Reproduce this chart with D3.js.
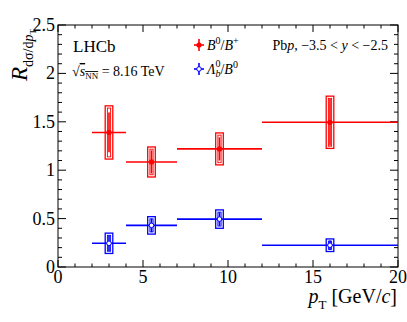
<!DOCTYPE html>
<html>
<head>
<meta charset="utf-8">
<script src="https://cdn.jsdelivr.net/npm/d3@7"></script>
<style>
  body { margin: 0; background: #fff; }
  svg text { font-family: "Liberation Serif", Tinos, "Times New Roman", Times, "Nimbus Roman", "DejaVu Serif", "Noto Serif", serif; }
</style>
</head>
<body>
<div id="chart"></div>
<script>
// ---- data ----
var binLo = [2, 4, 7, 12];
var binHi = [4, 7, 12, 20];
var binMid = [3, 5.5, 9.5, 16];

var bVal  = [1.39, 1.085, 1.22, 1.495];   // B0/B+
var bStat = [0.205, 0.12, 0.12, 0.24];
var bSyst = [0.275, 0.155, 0.165, 0.27];

var lVal  = [0.245, 0.43, 0.495, 0.225];  // Lambda_b0/B0
var lStat = [0.08, 0.07, 0.07, 0.05];
var lSyst = [0.105, 0.09, 0.095, 0.065];

var xTicks = [0, 5, 10, 15, 20];
var yTicks = [0, 0.5, 1, 1.5, 2, 2.5];

// ---- layout ----
var width = 407, height = 322;
var m = {left: 58, right: 9, top: 25, bottom: 55};
var W = width - m.left - m.right, H = height - m.top - m.bottom;

var svg = d3.select("#chart").append("svg")
    .attr("width", width).attr("height", height);
var g = svg.append("g").attr("transform", "translate(" + m.left + "," + m.top + ")");

var x = d3.scaleLinear().domain([0, 20]).range([0, W]);
var y = d3.scaleLinear().domain([0, 2.5]).range([H, 0]);

// frame
g.append("rect").attr("width", W).attr("height", H)
    .attr("fill", "none").attr("stroke", "#000").attr("stroke-width", 1);

// ticks (ROOT style, inside, on all four sides)
var xMinor = d3.range(0, 20.001, 1);
var yMinor = d3.range(0, 2.5001, 0.1);
xMinor.forEach(function (v) {
  var len = (Math.abs(v % 5) < 1e-6) ? 7 : 3.5;
  g.append("line").attr("x1", x(v)).attr("x2", x(v)).attr("y1", H).attr("y2", H - len).attr("stroke", "#000");
  g.append("line").attr("x1", x(v)).attr("x2", x(v)).attr("y1", 0).attr("y2", len).attr("stroke", "#000");
});
yMinor.forEach(function (v) {
  var isMaj = Math.abs(v * 2 - Math.round(v * 2)) < 1e-6;
  var len = isMaj ? 8 : 4;
  g.append("line").attr("y1", y(v)).attr("y2", y(v)).attr("x1", 0).attr("x2", len).attr("stroke", "#000");
  g.append("line").attr("y1", y(v)).attr("y2", y(v)).attr("x1", W).attr("x2", W - len).attr("stroke", "#000");
});

// tick labels
g.selectAll(".xl").data(xTicks).enter().append("text")
    .attr("x", function (d) { return x(d); }).attr("y", H + 16)
    .attr("text-anchor", "middle").attr("font-size", 18)
    .text(function (d) { return d; });
g.selectAll(".yl").data(yTicks).enter().append("text")
    .attr("x", -3).attr("y", function (d) { return y(d) + 6; })
    .attr("text-anchor", "end").attr("font-size", 18)
    .text(function (d) { return d; });

// axis titles
var xt = svg.append("text").attr("x", 397).attr("y", 303)
    .attr("text-anchor", "end").attr("font-size", 20);
xt.append("tspan").attr("font-style", "italic").text("p");
xt.append("tspan").attr("font-size", 13).attr("dy", 6).text("T");
xt.append("tspan").attr("dy", -6).text(" [GeV/");
xt.append("tspan").attr("font-style", "italic").text("c");
xt.append("tspan").text("]");

var yt = svg.append("text").attr("transform", "translate(27,81) rotate(-90)")
    .attr("text-anchor", "start").attr("font-size", 23);
yt.append("tspan").attr("font-style", "italic").text("R");
yt.append("tspan").attr("font-size", 14).attr("dy", 6).text("dσ/d");
yt.append("tspan").attr("font-size", 14).attr("font-style", "italic").text("p");
yt.append("tspan").attr("font-size", 9).attr("dy", 3).text("T");

// ---- data series ----
function drawSeries(val, stat, syst, col, open) {
  var s = g.append("g");
  var hw = 3.8;
  val.forEach(function (v, i) {
    var cx = x(binMid[i]);
    // syst box (double outline)
    s.append("rect").attr("x", cx - hw).attr("width", 2 * hw)
        .attr("y", y(v + syst[i])).attr("height", y(v - syst[i]) - y(v + syst[i]))
        .attr("fill", "#fff").attr("stroke", col).attr("stroke-width", 1.3);
    s.append("rect").attr("x", cx - hw + 2.2).attr("width", 2 * hw - 4.4)
        .attr("y", y(v + syst[i]) + 2.2).attr("height", y(v - syst[i]) - y(v + syst[i]) - 4.4)
        .attr("fill", "none").attr("stroke", col).attr("stroke-width", 0.9);
    // stat error
    s.append("line").attr("x1", cx).attr("x2", cx)
        .attr("y1", y(v + stat[i])).attr("y2", y(v - stat[i]))
        .attr("stroke", col).attr("stroke-width", 1.6);
    // bin width
    s.append("line").attr("x1", x(binLo[i])).attr("x2", x(binHi[i]))
        .attr("y1", y(v)).attr("y2", y(v))
        .attr("stroke", col).attr("stroke-width", 1.6);
    s.append("circle").attr("cx", cx).attr("cy", y(v)).attr("r", open ? 2.3 : 2.6)
        .attr("fill", open ? "#fff" : col).attr("stroke", col).attr("stroke-width", open ? 1 : 0);
  });
}
drawSeries(bVal, bStat, bSyst, "#f00", false);
drawSeries(lVal, lStat, lSyst, "#00f", true);

// ---- labels / legend ----
svg.append("text").attr("x", 73).attr("y", 52).attr("font-size", 17).text("LHCb");
var rs = svg.append("text").attr("x", 72).attr("y", 76).attr("font-size", 14);
rs.append("tspan").text("√");
rs.append("tspan").attr("font-style", "italic").attr("text-decoration", "overline").text("s");
rs.append("tspan").attr("font-size", 9).attr("dy", 3).attr("text-decoration", "overline").text("NN");
rs.append("tspan").attr("dy", -3).text(" = 8.16 TeV");

function legendMark(cx, cy, col, open) {
  svg.append("line").attr("x1", cx - 5).attr("x2", cx + 5).attr("y1", cy).attr("y2", cy).attr("stroke", col).attr("stroke-width", 1.6);
  svg.append("line").attr("x1", cx).attr("x2", cx).attr("y1", cy - 6).attr("y2", cy + 6).attr("stroke", col).attr("stroke-width", 1.6);
  svg.append("circle").attr("cx", cx).attr("cy", cy).attr("r", open ? 2.3 : 2.6)
      .attr("fill", open ? "#fff" : col).attr("stroke", col).attr("stroke-width", open ? 1 : 0);
}
legendMark(199, 45, "#f00", false);
legendMark(199, 69, "#00f", true);

var l1 = svg.append("text").attr("x", 207).attr("y", 50).attr("font-size", 14);
l1.append("tspan").attr("font-style", "italic").text("B");
l1.append("tspan").attr("font-size", 10).attr("dy", -6).text("0");
l1.append("tspan").attr("dy", 6).text("/");
l1.append("tspan").attr("font-style", "italic").text("B");
l1.append("tspan").attr("font-size", 10).attr("dy", -6).text("+");

var l2 = svg.append("text").attr("x", 207).attr("y", 74).attr("font-size", 14);
l2.append("tspan").attr("font-style", "italic").text("Λ");
l2.append("tspan").attr("font-size", 10).attr("font-style", "italic").attr("dy", 3).text("b");
l2.append("tspan").attr("font-size", 10).attr("dx", -5).attr("dy", -10).text("0");
l2.append("tspan").attr("dy", 7).text("/");
l2.append("tspan").attr("font-style", "italic").text("B");
l2.append("tspan").attr("font-size", 10).attr("dy", -6).text("0");

var pb = svg.append("text").attr("x", 388).attr("y", 50).attr("font-size", 14).attr("text-anchor", "end");
pb.append("tspan").text("Pb");
pb.append("tspan").attr("font-style", "italic").text("p");
pb.append("tspan").text(", −3.5 < ");
pb.append("tspan").attr("font-style", "italic").text("y");
pb.append("tspan").text(" < −2.5");
</script>
</body>
</html>
